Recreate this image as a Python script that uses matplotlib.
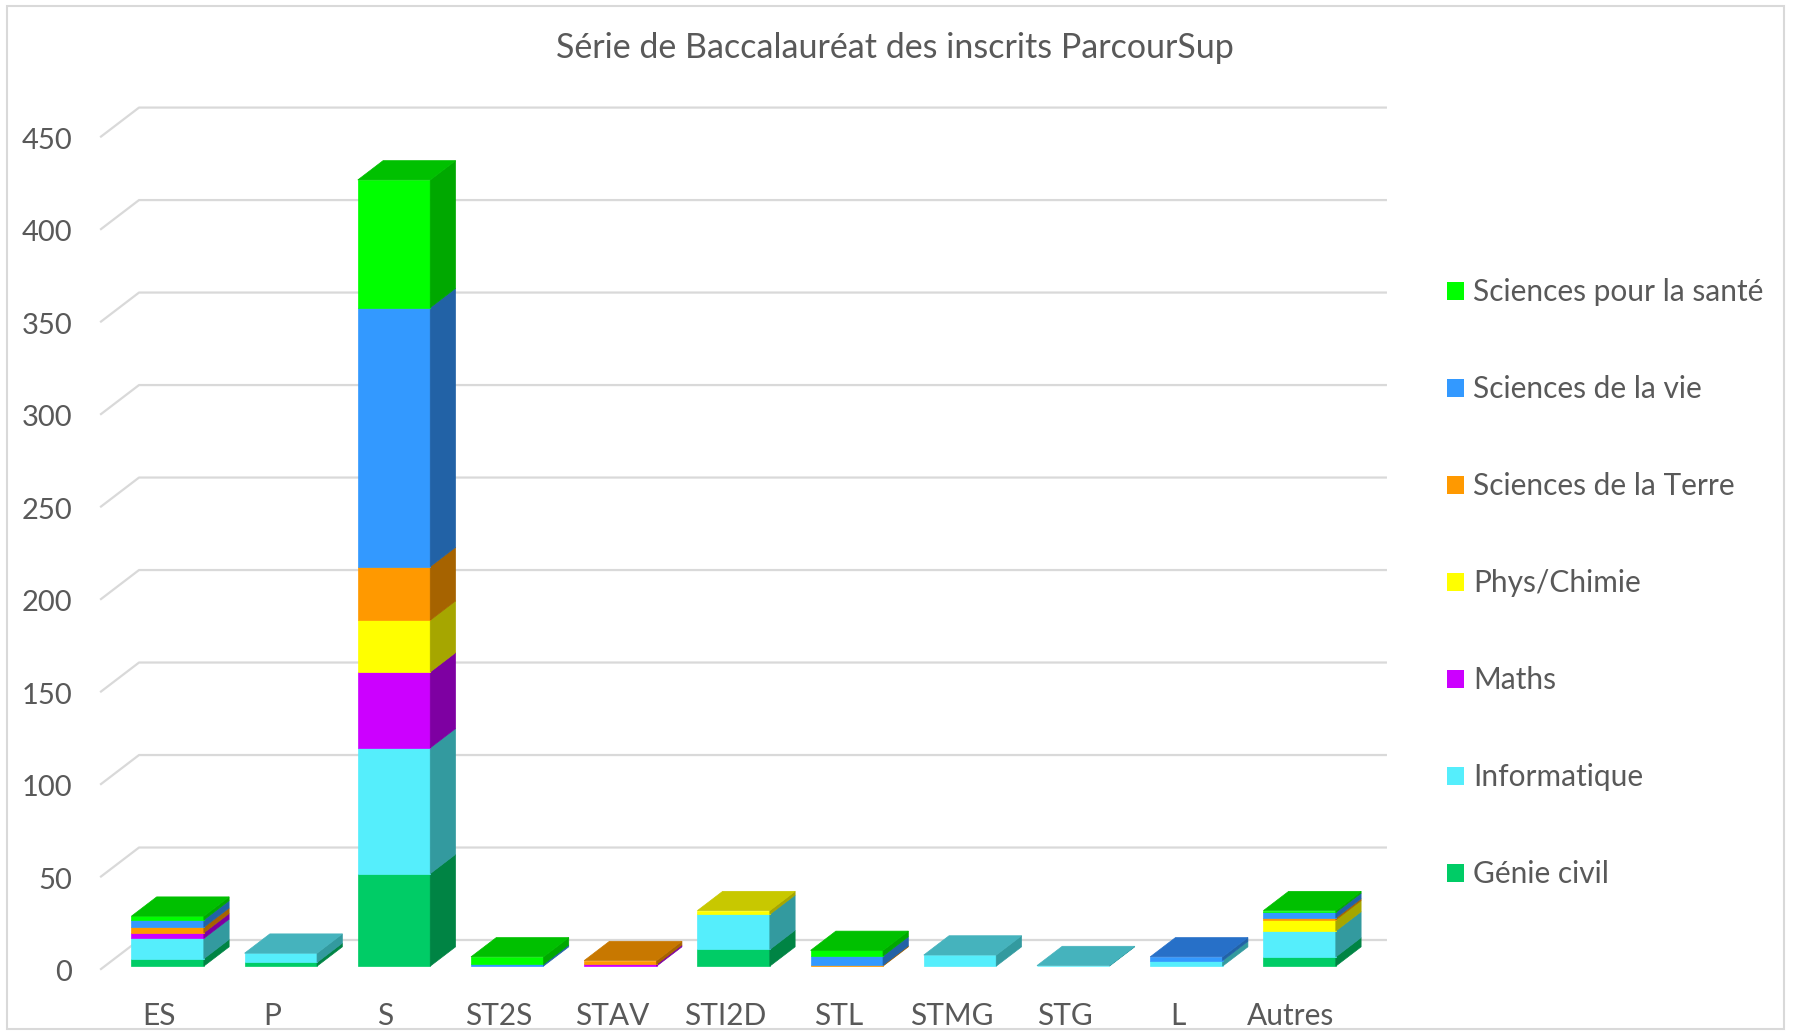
import matplotlib.pyplot as plt
from matplotlib.patches import Polygon, Patch, Rectangle

plt.rcParams['font.family'] = ['Lato', 'DejaVu Sans']

categories = ['ES', 'P', 'S', 'ST2S', 'STAV', 'STI2D', 'STL', 'STMG', 'STG', 'L', 'Autres']

genie_civil = [4, 2, 50, 0, 0, 9, 0, 0, 0, 0, 5]
informatique = [11, 5, 68, 0, 0, 19, 0, 6, 0.3, 3, 14]
maths = [3, 0, 41, 0, 1, 0, 0, 0, 0, 0, 0]
phys_chimie = [0, 0, 28, 0, 0, 2, 0, 0, 0, 0, 6]
terre = [3, 0, 29, 0, 2, 0, 0.5, 0, 0, 0, 1]
vie = [4, 0, 140, 1, 0, 0, 5, 0, 0, 2, 3]
sante = [2, 0, 69, 4, 0, 0, 3, 0, 0, 0, 1]

series_names = ['Génie civil', 'Informatique', 'Maths', 'Phys/Chimie',
                'Sciences de la Terre', 'Sciences de la vie', 'Sciences pour la santé']
series_values = [genie_civil, informatique, maths, phys_chimie, terre, vie, sante]

# front, side, top colours
front_cols = ['#00CC66', '#55EEFC', '#CC00FF', '#FFFF00', '#FF9900', '#3399FF', '#00FF00']
side_cols = ['#008444', '#339A9F', '#7E00A2', '#A6A600', '#A66300', '#2262A6', '#00A800']
top_cols = ['#00A855', '#45B3BD', '#9900CC', '#C8C800', '#C87800', '#2770C8', '#00C000']

yticks = list(range(0, 451, 50))

text_col = '#595959'
grid_col = '#D9D9D9'

fig = plt.figure(figsize=(17.93, 10.32), dpi=100)
ax = fig.add_axes([0, 0, 1, 1])
ax.set_xlim(-1.4046, 14.435)
ax.set_ylim(-33.68, 524.2)
ax.axis('off')

# depth projection
kx, ky = 0.3436, 16.05
x_floor = -0.52
x_back_end = 10.848
z0, z1 = 0.12, 0.77
hw = 0.32
shift = 0.035

# back wall gridlines with the left diagonal
for v in yticks:
    ax.plot([x_floor, x_floor + kx, x_back_end], [v, v + ky, v + ky],
            color=grid_col, lw=1.6, zorder=1, solid_capstyle='butt')
    ax.text(-0.765, v - 1.8, str(v), ha='right', va='center', fontsize=21, color=text_col)

for i, cat in enumerate(categories):
    xc = i + shift
    bottom = 0
    last = None
    for k, vals in enumerate(series_values):
        h = vals[i]
        if h <= 0:
            continue
        top = bottom + h
        xl_f, xr_f = xc - hw + z0 * kx, xc + hw + z0 * kx
        xr_b = xc + hw + z1 * kx
        ax.add_patch(Polygon([(xl_f, bottom + z0 * ky), (xr_f, bottom + z0 * ky),
                              (xr_f, top + z0 * ky), (xl_f, top + z0 * ky)],
                             closed=True, fc=front_cols[k], ec=front_cols[k], lw=0.5, zorder=3))
        ax.add_patch(Polygon([(xr_f, bottom + z0 * ky), (xr_b, bottom + z1 * ky),
                              (xr_b, top + z1 * ky), (xr_f, top + z0 * ky)],
                             closed=True, fc=side_cols[k], ec=side_cols[k], lw=0.5, zorder=3))
        bottom = top
        last = k
    if last is not None:
        xl_f, xr_f = xc - hw + z0 * kx, xc + hw + z0 * kx
        xl_b, xr_b = xc - hw + z1 * kx, xc + hw + z1 * kx
        ax.add_patch(Polygon([(xl_f, bottom + z0 * ky), (xr_f, bottom + z0 * ky),
                              (xr_b, bottom + z1 * ky), (xl_b, bottom + z1 * ky)],
                             closed=True, fc=top_cols[last], ec=top_cols[last], lw=0.5, zorder=4))
    ax.text(i, -25.2, cat, ha='center', va='center', fontsize=21.5, color=text_col)

ax.text(6.5, 498, 'Série de Baccalauréat des inscrits ParcourSup',
        ha='center', va='center', fontsize=24.5, color=text_col)

handles = [Patch(facecolor=front_cols[k], edgecolor='none', label=series_names[k])
           for k in range(len(series_names) - 1, -1, -1)]
fig.legend(handles=handles, loc='upper left', bbox_to_anchor=(0.7922, 0.7562),
           frameon=False, fontsize=21.5, labelcolor=text_col,
           handlelength=0.57, handleheight=0.57, handletextpad=0.3, labelspacing=2.31)

# chart border
fig.patches.append(Rectangle((0.004, 0.003), 0.991, 0.991, transform=fig.transFigure,
                             fill=False, ec='#D9D9D9', lw=1.5))

fig.savefig('out.png', dpi=100)
